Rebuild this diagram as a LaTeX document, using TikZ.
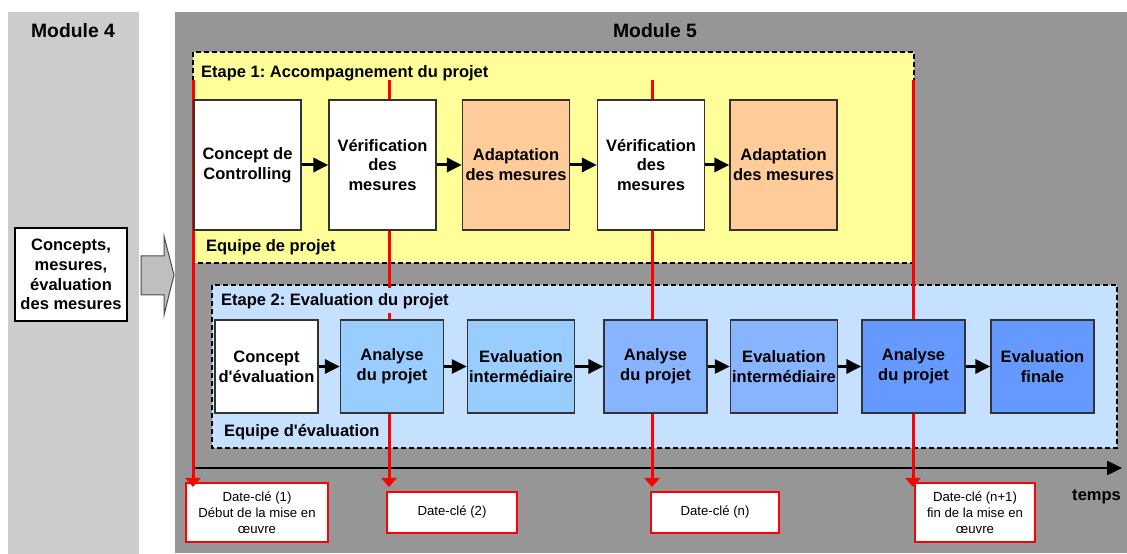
\documentclass[tikz,border=0pt]{standalone}
\usepackage{fontspec}
\setmainfont{Liberation Sans}
\usepackage{tikz}
\usetikzlibrary{arrows.meta, positioning, calc}
\frenchspacing

\definecolor{modfour}{HTML}{CCCCCC}
\definecolor{modfive}{HTML}{969696}
\definecolor{etapeone}{HTML}{FFFF99}
\definecolor{etapetwo}{HTML}{C6E0FF}
\definecolor{adapt}{HTML}{FFCC99}
\definecolor{blueA}{HTML}{99CCFF}
\definecolor{blueB}{HTML}{88B4FF}
\definecolor{blueC}{HTML}{6699FF}

\begin{document}
\begin{tikzpicture}[x=0.2mm, y=-0.2mm,
  every node/.style={font=\fontsize{9.4}{11.3}\selectfont\bfseries, align=center, inner sep=1pt},
  stepbox/.style={draw=black!80, line width=0.25mm, minimum width=21.4mm, minimum height=26mm},
  evalbox/.style={draw=black!80, line width=0.25mm, minimum width=20.6mm, minimum height=18.6mm},
  datebox/.style={draw=red, fill=white, line width=0.3mm, minimum height=8.2mm, font=\fontsize{7.5}{9.1}\selectfont},
  stage/.style={draw=black, dash pattern=on 1mm off 0.6mm, line width=0.3mm},
  flow/.style={-{Triangle[length=3mm,width=2.8mm]}, line width=0.6mm},
  keyline/.style={red, line width=0.6mm, -{Triangle[length=1.8mm,width=3mm]}}
]
\useasboundingbox (0,0) rectangle (1127,554);

% Module 4 / Module 5
\fill[modfour] (8,12) rectangle (139,554);
\fill[modfive] (175,12) rectangle (1127,553);
\node[font=\fontsize{11}{13}\selectfont\bfseries] (m4) at (73,31) {Module 4};
\node[font=\fontsize{11}{13}\selectfont\bfseries] (m5) at (655,31) {Module 5};

\node[draw=black, fill=white, line width=0.25mm, minimum width=22.4mm, minimum height=18.6mm] (concepts) at (71,274.5)
  {Concepts,\\mesures,\\évaluation\\des mesures};
\filldraw[fill=gray!50, draw=black!70, line width=0.2mm]
  (141,256) -- (164,256) -- (164,236) -- (174,275) -- (164,315) -- (164,295) -- (141,295) -- cycle;

% Etapes
\filldraw[fill=etapeone, stage] (193,52) rectangle (914,263);
\filldraw[fill=etapetwo, stage] (212,285) rectangle (1117,448);

% temps
\coordinate (t0) at (193,468);
\coordinate (t1) at (1122,468);
\draw[line width=0.5mm, -{Triangle[length=3mm,width=2.8mm]}] (t0) -- (t1);
\node[anchor=east] (temps) at (1123,497) {temps};

% Dates-cles
\node[datebox, minimum width=28.4mm, minimum height=11.8mm] (k1) at (257,512.5)
  {Date-clé (1)\\Début de la mise en\\œuvre};
\node[datebox, minimum width=26mm] (k2) at (452,512.5) {Date-clé (2)};
\node[datebox, minimum width=25.6mm] (k3) at (715,512.5) {Date-clé (n)};
\node[datebox, minimum width=24mm, minimum height=11.8mm] (k4) at (975,512.5)
  {Date-clé (n+1)\\fin de la mise en\\œuvre};

\foreach \i/\x in {1/193,2/389,3/652,4/913} {
  \coordinate (top\i) at (\x,80);
  \coordinate (tip\i) at (\x,487);
  \draw[keyline] (top\i) -- (tip\i);
}

% labels
\node[anchor=west] (e1title) at (199,73) {Etape 1: Accompagnement du projet};
\node[anchor=west] (e1team) at (204,247) {Equipe de projet};
\node[anchor=west, fill=etapetwo, minimum height=5mm] (e2title) at (219,301) {Etape 2: Evaluation du projet};
\node[anchor=west] (e2team) at (222,432) {Equipe d\textquotesingle évaluation};

% Etape 1
\node[stepbox, fill=white] (c1) at (247.5,165) {Concept de\\Controlling};
\node[stepbox, fill=white] (c2) at (382.5,165) {Vérification\\des\\mesures};
\node[stepbox, fill=adapt] (c3) at (516,165) {Adaptation\\des mesures};
\node[stepbox, fill=white] (c4) at (651,165) {Vérification\\des\\mesures};
\node[stepbox, fill=adapt] (c5) at (783.5,165) {Adaptation\\des mesures};
\foreach \a/\b in {c1/c2,c2/c3,c3/c4,c4/c5}
  \draw[flow] (\a) -- (\b);

% Etape 2
\node[evalbox, fill=white] (v1) at (266.5,366.5) {Concept\\d\textquotesingle évaluation};
\node[evalbox, fill=blueA] (v2) at (392,366.5) {Analyse\\du projet};
\node[evalbox, fill=blueA] (v3) at (521,366.5) {Evaluation\\intermédiaire};
\node[evalbox, fill=blueB] (v4) at (655.5,366.5) {Analyse\\du projet};
\node[evalbox, fill=blueB, minimum width=19.6mm] (v5) at (784,366.5) {Evaluation\\intermédiaire};
\node[evalbox, fill=blueC] (v6) at (913.5,366.5) {Analyse\\du projet};
\node[evalbox, fill=blueC] (v7) at (1042.5,366.5) {Evaluation\\finale};
\foreach \a/\b in {v1/v2,v2/v3,v3/v4,v4/v5,v5/v6,v6/v7}
  \draw[flow] (\a) -- (\b);
\end{tikzpicture}
\end{document}
